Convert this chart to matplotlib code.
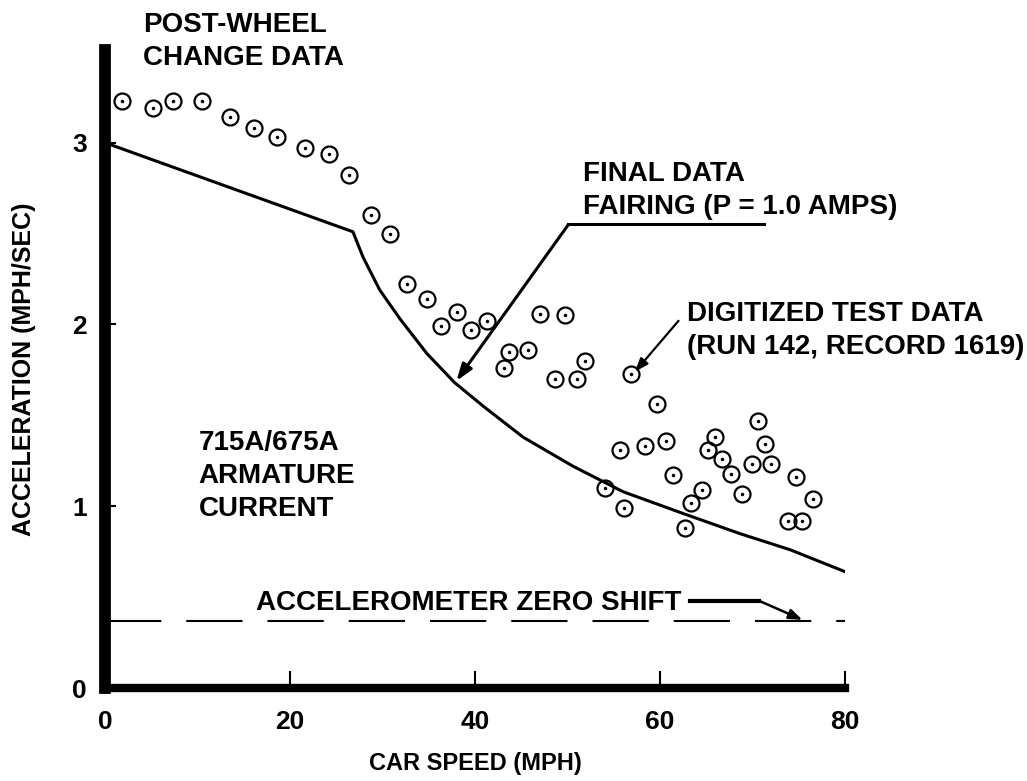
import numpy as np
import matplotlib.pyplot as plt

speed = [1.8, 5.2, 7.3, 10.5, 13.5, 16.1, 18.6, 21.6, 24.2, 26.4,
         28.8, 30.8, 32.6, 34.8, 36.3, 38.1, 39.6, 41.3, 43.1, 43.7,
         45.7, 47.0, 48.6, 49.7, 51.0, 51.9, 54.1, 55.7, 56.1, 56.9,
         58.4, 59.7, 60.7, 61.4, 62.7, 63.3, 64.5, 65.2, 66.0, 66.7,
         67.7, 68.9, 69.9, 70.6, 71.4, 72.0, 73.8, 74.7, 75.4, 76.5]
accel = [3.23, 3.19, 3.23, 3.23, 3.14, 3.08, 3.03, 2.97, 2.94, 2.82,
         2.60, 2.50, 2.22, 2.14, 1.99, 2.07, 1.97, 2.02, 1.76, 1.85,
         1.86, 2.06, 1.70, 2.05, 1.70, 1.80, 1.10, 1.31, 0.99, 1.73,
         1.33, 1.56, 1.36, 1.17, 0.88, 1.02, 1.09, 1.31, 1.38, 1.26,
         1.18, 1.07, 1.23, 1.47, 1.34, 1.23, 0.92, 1.16, 0.92, 1.04]

# final data fairing (P = 1.0 amps)
fair_speed = [0, 26.8, 27.9, 29.7, 31.9, 34.8, 37.8, 40.9, 45.2, 50.6, 56.0, 62.5, 68.6, 74.1, 80.0]
fair_accel = [3.0, 2.51, 2.37, 2.19, 2.03, 1.84, 1.68, 1.55, 1.38, 1.22, 1.08, 0.96, 0.85, 0.76, 0.64]

zero_shift = 0.37

xticks = [0, 20, 40, 60, 80]
yticks = [0, 1, 2, 3]

plt.rcParams['font.family'] = ['Liberation Sans', 'DejaVu Sans']
plt.rcParams['font.weight'] = 'bold'

fig = plt.figure(figsize=(10.27, 7.81), dpi=100)
ax = fig.add_axes([105 / 1027, 93 / 781, 740 / 1027, 638 / 781])

ax.plot(speed, accel, 'o', ms=11.5, mfc='none', mec='black', mew=1.6, zorder=3)
ax.plot(speed, accel, '.', ms=3, color='black', zorder=3)
ax.plot(fair_speed, fair_accel, color='black', lw=2.2, solid_joinstyle='round')
ax.plot([0, 80], [zero_shift, zero_shift], color='black', lw=1.5, linestyle=(0, (27, 12)))

ax.set_xlim(0, 80)
ax.set_ylim(0, 3.51)
ax.set_xticks(xticks)
ax.set_yticks(yticks)
ax.tick_params(axis='x', direction='in', length=12, width=1.5, pad=16, labelsize=19)
ax.tick_params(axis='y', direction='in', length=8, width=1.5, pad=13, labelsize=19)
for s in ['top', 'right']:
    ax.spines[s].set_visible(False)
ax.spines['left'].set_linewidth(8.5)
ax.spines['bottom'].set_linewidth(6)

ax.set_xlabel('CAR SPEED (MPH)', fontsize=17, fontweight='bold', labelpad=13)
ax.set_ylabel('ACCELERATION (MPH/SEC)', fontsize=18, fontweight='bold', labelpad=26)

txt = dict(fontsize=20, fontweight='bold', linespacing=1.35, clip_on=False)
ax.text(4.1, 3.72, 'POST-WHEEL\nCHANGE DATA', ha='left', va='top', **txt)
ax.text(51.7, 2.90, 'FINAL DATA\nFAIRING (P = 1.0 AMPS)', ha='left', va='top', **txt)
ax.text(62.9, 2.13, 'DIGITIZED TEST DATA\n(RUN 142, RECORD 1619)', ha='left', va='top', **txt)
ax.text(10.1, 1.42, '715A/675A\nARMATURE\nCURRENT', ha='left', va='top', **txt)
ax.text(16.3, 0.465, 'ACCELEROMETER ZERO SHIFT', ha='left', va='center', fontsize=20, fontweight='bold')

# leader lines
ax.plot([71.2, 50.1], [2.55, 2.55], color='black', lw=2.2)
ax.annotate('', xy=(38.0, 1.69), xytext=(50.1, 2.55),
            arrowprops=dict(arrowstyle='-|>,head_length=1.0,head_width=0.35', color='black', lw=2.2, shrinkA=0, shrinkB=0))
ax.annotate('', xy=(57.3, 1.74), xytext=(62.0, 2.02),
            arrowprops=dict(arrowstyle='-|>,head_length=0.8,head_width=0.3', color='black', lw=1.6, shrinkA=0, shrinkB=0))
ax.plot([63.2, 70.7], [0.48, 0.48], color='black', lw=3)
ax.annotate('', xy=(75.4, 0.375), xytext=(70.7, 0.48),
            arrowprops=dict(arrowstyle='-|>,head_length=0.8,head_width=0.3', color='black', lw=1.8, shrinkA=0, shrinkB=0))

plt.savefig('out.png', dpi=100)
